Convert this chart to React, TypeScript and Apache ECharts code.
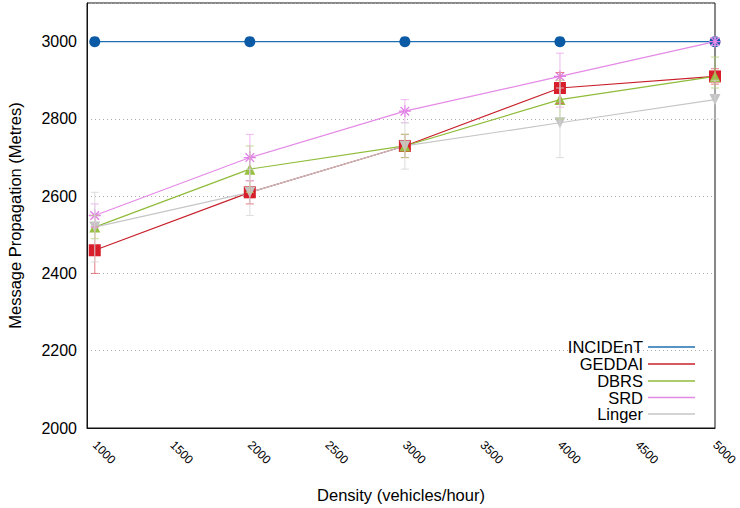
import React, { useEffect, useRef } from "react";
import * as echarts from "echarts";

const densities = [1000, 2000, 3000, 4000, 5000];
const xTickLabels = [1000, 1500, 2000, 2500, 3000, 3500, 4000, 4500, 5000];

const incident = [3000, 3000, 3000, 3000, 3000];
const geddai = [2460, 2610, 2730, 2880, 2910];
const dbrs = [2520, 2670, 2730, 2850, 2910];
const srd = [2550, 2700, 2820, 2910, 3000];
const linger = [2520, 2610, 2730, 2790, 2850];

const geddaiLow = [2400, 2580, 2700, 2840, 2890];
const geddaiHigh = [2520, 2640, 2760, 2920, 2930];
const dbrsLow = [2490, 2610, 2700, 2800, 2880];
const dbrsHigh = [2550, 2730, 2760, 2900, 2960];
const srdLow = [2520, 2640, 2790, 2830, 2990];
const srdHigh = [2580, 2760, 2850, 2970, 3010];
const lingerLow = [2430, 2550, 2670, 2700, 2800];
const lingerHigh = [2610, 2670, 2790, 2880, 2900];

const FONT = "Liberation Sans, Arial, Helvetica, sans-serif";

export default function App() {
  const ref = useRef<HTMLDivElement>(null);

  useEffect(() => {
    if (!ref.current) return;
    const chart = echarts.init(ref.current, undefined, { renderer: "svg" });

    const pts = (ys: number[]) => densities.map((x, i) => [x, ys[i]]);
    const errs = (lo: number[], hi: number[]) => densities.map((x, i) => [x, lo[i], hi[i]]);

    const lineSeries = (
      name: string,
      ys: number[],
      color: string,
      symbol: string,
      symbolSize: number,
      markerColor?: string,
      stroke?: boolean
    ) => ({
      name,
      type: "line",
      data: pts(ys),
      symbol,
      symbolSize,
      showSymbol: true,
      lineStyle: { color, width: 1.2 },
      itemStyle: stroke
        ? { color: "none", borderColor: markerColor || color, borderWidth: 1.3 }
        : { color: markerColor || color },
      z: 3,
    });

    const errSeries = (name: string, lo: number[], hi: number[], color: string) => ({
      name,
      type: "custom",
      data: errs(lo, hi),
      encode: { x: 0, y: [1, 2] },
      z: 5,
      silent: true,
      renderItem: (params: any, api: any) => {
        const x = api.value(0);
        const p1 = api.coord([x, api.value(1)]);
        const p2 = api.coord([x, api.value(2)]);
        const w = 4;
        const style = { stroke: color, lineWidth: 1.1, opacity: 0.75 };
        return {
          type: "group",
          children: [
            { type: "line", shape: { x1: p1[0], y1: p1[1], x2: p2[0], y2: p2[1] }, style },
            { type: "line", shape: { x1: p1[0] - w, y1: p1[1], x2: p1[0] + w, y2: p1[1] }, style },
            { type: "line", shape: { x1: p2[0] - w, y1: p2[1], x2: p2[0] + w, y2: p2[1] }, style },
          ],
        };
      },
    });

    const names = ["INCIDEnT", "GEDDAI", "DBRS", "SRD", "Linger"];
    const legendColors = ["#1f6fb0", "#c8202a", "#8fbc3a", "#e48ae6", "#c6c6c6"];
    const legendCenters = [347, 364, 381, 397.5, 414];
    const legends = names.map((n, i) => ({
      data: [n],
      orient: "horizontal",
      align: "right",
      right: 45,
      top: legendCenters[i] - 9,
      icon: "rect",
      itemWidth: 47,
      itemHeight: 1.5,
      itemGap: 0,
      selectedMode: false,
      padding: 0,
      itemStyle: { color: legendColors[i], borderWidth: 0 },
      textStyle: { fontSize: 16.5, fontFamily: FONT, color: "#000", lineHeight: 18 },
    }));

    const asterisk = "path://M0,-1L0,1M-1,0L1,0M-0.72,-0.72L0.72,0.72M-0.72,0.72L0.72,-0.72";

    chart.setOption({
      animation: false,
      backgroundColor: "#fff",
      textStyle: { fontFamily: FONT },
      grid: {
        left: 87,
        right: 25,
        top: 3,
        bottom: 80,
        show: true,
        borderColor: "#111",
        borderWidth: 1,
        containLabel: false,
        outerBoundsMode: "none",
      },
      legend: legends,
      xAxis: {
        type: "value",
        min: 950,
        max: 5000,
        name: "Density (vehicles/hour)",
        nameLocation: "middle",
        nameGap: 58,
        nameTextStyle: { fontSize: 16.5, fontFamily: FONT, color: "#000" },
        axisLine: { show: true, lineStyle: { color: "#111" } },
        axisTick: { show: false },
        splitLine: { show: false },
        axisLabel: {
          customValues: xTickLabels,
          rotate: -45,
          margin: 15,
          fontSize: 12,
          fontFamily: FONT,
          color: "#000",
          formatter: (v: number) => String(v),
        },
      },
      yAxis: {
        type: "value",
        min: 2000,
        max: 3100,
        interval: 200,
        name: "Message Propagation (Metres)",
        nameLocation: "middle",
        nameGap: 64,
        nameTextStyle: { fontSize: 16.5, fontFamily: FONT, color: "#000" },
        axisLine: { show: true, lineStyle: { color: "#111" } },
        axisTick: { show: false },
        splitLine: { show: true, lineStyle: { color: "#aaa", type: [1, 3], width: 1 } },
        axisLabel: {
          margin: 10,
          fontSize: 16,
          fontFamily: FONT,
          color: "#000",
          formatter: (v: number) => (v > 3000 ? "" : String(v)),
        },
      },
      series: [
        lineSeries("INCIDEnT", incident, "#1f6fb0", "circle", 11, "#0a5aa6"),
        lineSeries("GEDDAI", geddai, "#c8202a", "rect", 12, "#d81e2a"),
        lineSeries("DBRS", dbrs, "#8fbc3a", "triangle", 11, "#96c041"),
        lineSeries("SRD", srd, "#e48ae6", asterisk, 12, "#e17de6", true),
        lineSeries("Linger", linger, "#c6c6c6", "path://M0,0L2,0L1,1.8Z", 11, "#c4c4c4"),
        errSeries("GEDDAI-err", geddaiLow, geddaiHigh, "#e0606a"),
        errSeries("DBRS-err", dbrsLow, dbrsHigh, "#b4d27a"),
        errSeries("SRD-err", srdLow, srdHigh, "#eaa8ec"),
        errSeries("Linger-err", lingerLow, lingerHigh, "#d6d6d6"),
      ],
    });

    return () => chart.dispose();
  }, []);

  return (
    <div
      ref={ref}
      style={{ position: "absolute", left: 0, top: 0, width: 740, height: 508 }}
    />
  );
}
